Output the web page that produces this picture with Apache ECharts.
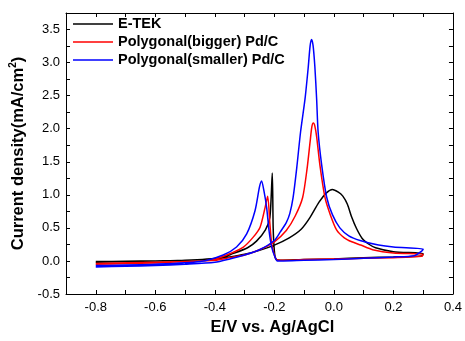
<!DOCTYPE html>
<html>
<head>
<meta charset="utf-8">
<script src="https://cdn.jsdelivr.net/npm/echarts@6/dist/echarts.min.js"></script>
<style>
  html, body { margin: 0; padding: 0; background: #fff; }
  #chart { width: 465px; height: 341px; }
</style>
</head>
<body>
<div id="chart"></div>
<script>
const seriesNames = ['E-TEK', 'Polygonal(bigger) Pd/C', 'Polygonal(smaller) Pd/C'];

// E-TEK: forward scan (-0.8 -> 0.3 V) then reverse scan (0.3 -> -0.8 V)
const etekFwdE = [-0.8, -0.7, -0.6, -0.5, -0.4, -0.35, -0.3, -0.25, -0.2, -0.15, -0.11, -0.08, -0.05, -0.025, -0.005, 0.015, 0.03, 0.045, 0.06, 0.076, 0.095, 0.115, 0.14, 0.2, 0.3];
const etekFwdJ = [-0.01, -0.005, 0.0, 0.01, 0.03, 0.06, 0.1, 0.16, 0.24, 0.35, 0.48, 0.66, 0.89, 1.03, 1.08, 1.04, 0.98, 0.86, 0.66, 0.49, 0.34, 0.26, 0.2, 0.14, 0.11];
const etekRevE = [0.295, 0.2, 0.1, 0.0, -0.1, -0.18, -0.195, -0.2, -0.204, -0.207, -0.215, -0.23, -0.26, -0.29, -0.34, -0.38, -0.5, -0.6, -0.8];
const etekRevJ = [0.075, 0.06, 0.05, 0.03, 0.02, 0.01, 0.03, 0.15, 0.5, 1.33, 0.66, 0.47, 0.3, 0.2, 0.11, 0.05, 0.01, 0.0, -0.02];

// Polygonal (bigger) Pd/C
const biggerFwdE = [-0.8, -0.7, -0.6, -0.5, -0.4, -0.35, -0.3, -0.25, -0.2, -0.16, -0.13, -0.105, -0.09, -0.08, -0.074, -0.069, -0.064, -0.058, -0.047, -0.03, -0.013, 0.009, 0.035, 0.06, 0.09, 0.13, 0.2, 0.3];
const biggerFwdJ = [-0.05, -0.04, -0.03, -0.01, 0.01, 0.05, 0.09, 0.17, 0.29, 0.46, 0.68, 0.96, 1.4, 1.8, 2.03, 2.085, 2.04, 1.88, 1.45, 0.96, 0.71, 0.47, 0.35, 0.29, 0.24, 0.17, 0.12, 0.1];
const biggerRevE = [0.295, 0.2, 0.1, 0.0, -0.1, -0.17, -0.19, -0.198, -0.209, -0.215, -0.2225, -0.231, -0.248, -0.271, -0.304, -0.349, -0.405, -0.5, -0.6, -0.8];
const biggerRevJ = [0.07, 0.05, 0.04, 0.03, 0.02, 0.01, 0.015, 0.06, 0.26, 0.56, 0.98, 0.81, 0.51, 0.36, 0.21, 0.11, 0.02, -0.01, -0.02, -0.04];

// Polygonal (smaller) Pd/C
const smallerFwdE = [-0.8, -0.7, -0.6, -0.5, -0.4, -0.35, -0.3, -0.25, -0.2, -0.18, -0.16, -0.148, -0.137, -0.125, -0.112, -0.097, -0.086, -0.08, -0.075, -0.07, -0.064, -0.058, -0.053, -0.041, -0.024, -0.005, 0.02, 0.05, 0.088, 0.15, 0.2, 0.3];
const smallerFwdJ = [-0.09, -0.08, -0.07, -0.05, -0.02, 0.03, 0.09, 0.17, 0.31, 0.44, 0.58, 0.72, 0.96, 1.4, 1.95, 2.45, 2.94, 3.25, 3.35, 3.26, 2.94, 2.45, 1.95, 1.45, 0.96, 0.7, 0.5, 0.38, 0.31, 0.24, 0.21, 0.18];
const smallerRevE = [0.295, 0.27, 0.2, 0.1, 0.0, -0.1, -0.17, -0.19, -0.198, -0.209, -0.218, -0.226, -0.235, -0.243, -0.25, -0.265, -0.293, -0.327, -0.372, -0.45, -0.6, -0.8];
const smallerRevJ = [0.15, 0.08, 0.06, 0.04, 0.02, 0.01, 0.0, 0.0, 0.06, 0.21, 0.46, 0.81, 1.06, 1.21, 1.12, 0.76, 0.41, 0.21, 0.09, -0.01, -0.05, -0.07];

const colors = ['#000000', '#ff0000', '#0000ff'];

function loop(fE, fJ, rE, rJ) {
  const fwd = fE.map((e, i) => [e, fJ[i]]);
  const rev = rE.map((e, i) => [e, rJ[i]]);
  return fwd.concat(rev);
}

const curves = [
  loop(etekFwdE, etekFwdJ, etekRevE, etekRevJ),
  loop(biggerFwdE, biggerFwdJ, biggerRevE, biggerRevJ),
  loop(smallerFwdE, smallerFwdJ, smallerRevE, smallerRevJ)
];

const chart = echarts.init(document.getElementById('chart'));

const frameLine = { show: true, onZero: false, lineStyle: { color: '#000', width: 1 } };
const tickIn = { inside: true, length: 4, lineStyle: { color: '#000' } };
const labelFont = { fontFamily: 'Liberation Sans, Arial', fontSize: 13, color: '#000' };

const option = {
  animation: false,
  grid: { left: 66, right: 12, top: 13, bottom: 43 },
  legend: {
    data: seriesNames,
    orient: 'vertical',
    left: 68,
    top: 11,
    icon: 'rect',
    itemWidth: 40,
    itemHeight: 1.5,
    itemGap: 2,
    textStyle: { fontFamily: 'Liberation Sans, Arial', fontSize: 14.5, fontWeight: 'bold', color: '#000', lineHeight: 16 }
  },
  xAxis: [
    {
      type: 'value',
      min: -0.9,
      max: 0.4,
      interval: 0.1,
      name: 'E/V vs. Ag/AgCl',
      nameLocation: 'middle',
      nameGap: 25,
      nameTextStyle: { fontFamily: 'Liberation Sans, Arial', fontSize: 16.5, fontWeight: 'bold', color: '#000', padding: [0, 0, 0, 26] },
      axisLine: frameLine,
      axisTick: tickIn,
      axisLabel: Object.assign({
        margin: 7,
        formatter: function (v) {
          const k = Math.round(v * 10);
          return k % 2 === 0 ? (k / 10).toFixed(1) : '';
        }
      }, labelFont),
      splitLine: { show: false }
    },
    {
      type: 'value',
      position: 'top',
      min: -0.9,
      max: 0.4,
      interval: 0.1,
      axisLine: frameLine,
      axisTick: tickIn,
      axisLabel: { show: false },
      splitLine: { show: false }
    }
  ],
  yAxis: [
    {
      type: 'value',
      min: -0.5,
      max: 3.75,
      interval: 0.25,
      name: 'Current density(mA/cm{sup|2})',
      nameLocation: 'middle',
      nameGap: 37,
      nameTextStyle: {
        fontFamily: 'Liberation Sans, Arial', fontSize: 16.5, fontWeight: 'bold', color: '#000',
        rich: { sup: { fontFamily: 'Liberation Sans, Arial', fontSize: 10, fontWeight: 'bold', color: '#000', padding: [0, 0, 9, 0] } }
      },
      axisLine: frameLine,
      axisTick: tickIn,
      axisLabel: Object.assign({
        margin: 6,
        formatter: function (v) {
          const k = Math.round(v * 4);
          return k % 2 === 0 ? (k / 4).toFixed(1) : '';
        }
      }, labelFont),
      splitLine: { show: false }
    },
    {
      type: 'value',
      position: 'right',
      min: -0.5,
      max: 3.75,
      interval: 0.25,
      axisLine: frameLine,
      axisTick: tickIn,
      axisLabel: { show: false },
      splitLine: { show: false }
    }
  ],
  series: seriesNames.map((name, i) => ({
    name: name,
    type: 'line',
    xAxisIndex: 0,
    yAxisIndex: 0,
    data: curves[i],
    symbol: 'none',
    smooth: 0.25,
    lineStyle: { color: colors[i], width: 1.5 },
    itemStyle: { color: colors[i] }
  }))
};

chart.setOption(option);
</script>
</body>
</html>
